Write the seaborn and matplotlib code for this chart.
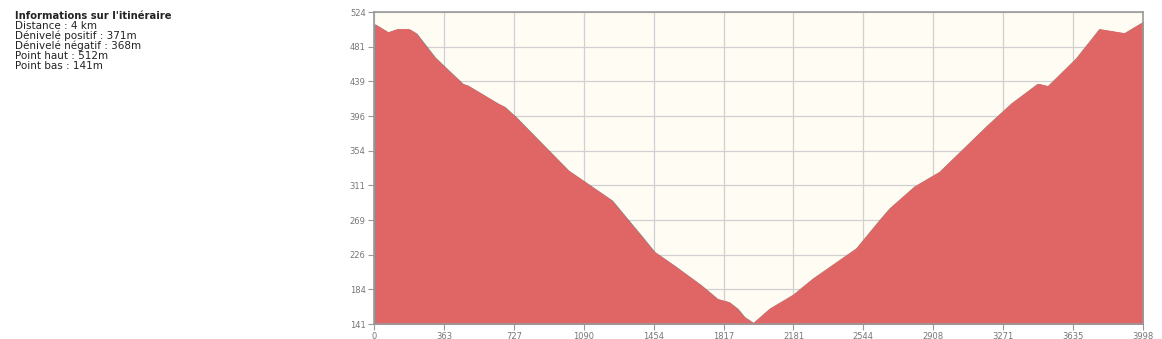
import matplotlib
matplotlib.use("Agg")
import matplotlib.pyplot as plt
import matplotlib.patheffects as pe
import seaborn as sns
import pandas as pd
import numpy as np

# Distance (m) and elevation (m) read from the profile
distance = [0, 69, 118, 178, 213, 308, 343, 455, 481, 637, 671, 732, 1002, 1230,
            1381, 1450, 1554, 1693, 1779, 1840, 1883, 1918, 1969, 2056, 2177, 2281,
            2506, 2628, 2679, 2809, 2939, 3188, 3313, 3449, 3501, 3648, 3769, 3899, 3998]
elevation = [509, 499, 503, 503, 498, 469, 461, 436, 434, 412, 408, 395, 330, 293,
             250, 230, 213, 189, 172, 168, 160, 150, 142, 160, 177, 197,
             234, 269, 283, 310, 328, 385, 412, 436, 433, 467, 503, 498, 512]

y_min, y_max = 141, 524
x_max = 3998
x_tick_labels = ["0", "363", "727", "1090", "1454", "1817", "2181", "2544", "2908", "3271", "3635", "3998"]
y_tick_labels = ["141", "184", "226", "269", "311", "354", "396", "439", "481", "524"]

info_title = "Informations sur l'itinéraire"
info_lines = ["Distance : 4 km", "Dénivelé positif : 371m", "Dénivelé négatif : 368m",
              "Point haut : 512m", "Point bas : 141m"]

df = pd.DataFrame({"distance": distance, "elevation": elevation})

sns.set_theme(style="white")
plt.rcParams["font.family"] = ["DejaVu Sans"]

fig = plt.figure(figsize=(11.62, 3.39), dpi=100)
ax = fig.add_axes([374 / 1162, 1 - 324 / 339, (1143 - 374) / 1162, (324 - 12) / 339])
ax.set_facecolor("#fffcf4")

fill_color = "#e06666"
# shadow line drawn beneath the fill so it only shows on the open side
sns.lineplot(data=df, x="distance", y="elevation", ax=ax, color="#555555", linewidth=1.6,
             zorder=1.5, estimator=None, sort=False,
             path_effects=[pe.SimpleLineShadow(offset=(1.2, -1.0), shadow_color="#555555", alpha=0.7)])
ax.fill_between(df["distance"], df["elevation"], y_min, color=fill_color, linewidth=0.6,
                edgecolor=fill_color, zorder=2)

ax.set_xlim(0, x_max)
ax.set_ylim(y_min, y_max)
xt = np.linspace(0, x_max, len(x_tick_labels))
yt = np.linspace(y_min, y_max, len(y_tick_labels))
ax.set_xticks(xt)
ax.set_xticklabels(x_tick_labels)
ax.set_yticks(yt)
ax.set_yticklabels(y_tick_labels)
ax.grid(True, color="#d0d0d0", linewidth=0.9, zorder=0)
ax.set_axisbelow(True)
ax.tick_params(axis="both", which="both", length=4, width=0.8, color="#999999",
               labelsize=6, labelcolor="#777777", pad=2, left=True, bottom=True)
ax.set_xlabel("")
ax.set_ylabel("")
for side in ["top", "right", "left", "bottom"]:
    ax.spines[side].set_visible(True)
    ax.spines[side].set_color("#999999")
    ax.spines[side].set_linewidth(1.2)
    ax.spines[side].set_zorder(4)

fig.text(15 / 1162, 1 - 16 / 339, info_title, fontsize=7.2, fontweight="bold", color="#222222", va="center")
for i, line in enumerate(info_lines):
    fig.text(15 / 1162, 1 - (26 + 10 * i) / 339, line, fontsize=7.5, color="#222222", va="center")

fig.savefig("out.png", dpi=100, facecolor="white")
